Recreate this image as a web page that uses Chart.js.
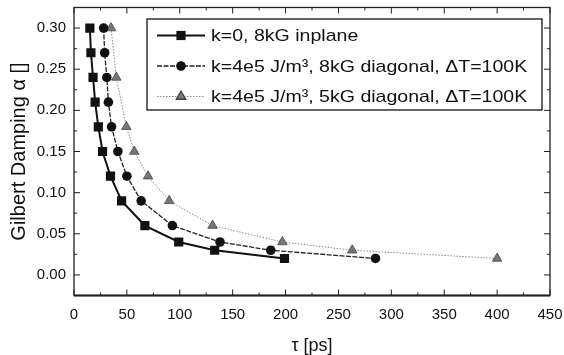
<!DOCTYPE html>
<html>
<head>
<meta charset="utf-8">
<script src="https://cdn.jsdelivr.net/npm/chart.js@4.4.1/dist/chart.umd.min.js"></script>
<style>
  html, body { margin: 0; padding: 0; background: #fff; }
  #damping { display: block; }
</style>
</head>
<body>
<canvas id="damping" width="564" height="355"></canvas>
<script>
// relaxation time tau [ps] vs. Gilbert damping alpha, one pair of arrays per curve
const tauInplane   = [15, 16, 18, 20, 23, 27, 34.5, 45, 67, 99, 133, 199];
const alphaInplane = [0.30, 0.27, 0.24, 0.21, 0.18, 0.15, 0.12, 0.09, 0.06, 0.04, 0.03, 0.02];

const tauDiag8   = [28, 29, 31, 32.5, 35.5, 41.5, 50, 63.5, 93, 138, 186, 285];
const alphaDiag8 = [0.30, 0.27, 0.24, 0.21, 0.18, 0.15, 0.12, 0.09, 0.06, 0.04, 0.03, 0.02];

const tauDiag5   = [35, 40, 49.5, 57, 70, 90, 131, 197, 263, 400];
const alphaDiag5 = [0.30, 0.24, 0.18, 0.15, 0.12, 0.09, 0.06, 0.04, 0.03, 0.02];

const seriesNames = [
  "k=0, 8kG inplane",
  "k=4e5 J/m\u00B3, 8kG diagonal, \u0394T=100K",
  "k=4e5 J/m\u00B3, 5kG diagonal, \u0394T=100K"
];

const xTicks = [0, 50, 100, 150, 200, 250, 300, 350, 400, 450];
const yTicks = [0, 0.05, 0.10, 0.15, 0.20, 0.25, 0.30];
const xMinor = [25, 75, 125, 175, 225, 275, 325, 375, 425];
const yMinor = [0.025, 0.075, 0.125, 0.175, 0.225, 0.275];

const FONT = '"Liberation Sans", Arial, sans-serif';

function pairs(xs, ys) {
  return xs.map((x, i) => ({ x: x, y: ys[i] }));
}

// no extra room for overhanging end labels, the frame fills the axis box
function noLabelPadding(s) {
  s.paddingLeft = 0;
  s.paddingRight = 0;
  s.paddingTop = 0;
  s.paddingBottom = 0;
}

// frame with inward ticks on all four sides
const frameTicks = {
  id: 'frameTicks',
  afterDraw(chart) {
    const ctx = chart.ctx;
    const a = chart.chartArea;
    const sx = chart.scales.x, sy = chart.scales.y;
    ctx.save();
    ctx.strokeStyle = '#222';
    ctx.lineWidth = 1;
    const tick = (x1, y1, x2, y2) => {
      ctx.beginPath();
      ctx.moveTo(x1, y1);
      ctx.lineTo(x2, y2);
      ctx.stroke();
    };
    xTicks.forEach(v => {
      const px = sx.getPixelForValue(v);
      tick(px, a.bottom, px, a.bottom - 6);
      tick(px, a.top, px, a.top + 6);
    });
    xMinor.forEach(v => {
      const px = sx.getPixelForValue(v);
      tick(px, a.bottom, px, a.bottom - 3);
      tick(px, a.top, px, a.top + 3);
    });
    yTicks.forEach(v => {
      const py = sy.getPixelForValue(v);
      tick(a.left, py, a.left + 6, py);
      tick(a.right, py, a.right - 6, py);
    });
    yMinor.forEach(v => {
      const py = sy.getPixelForValue(v);
      tick(a.left, py, a.left + 3, py);
      tick(a.right, py, a.right - 3, py);
    });
    ctx.lineWidth = 1.3;
    ctx.strokeRect(a.left, a.top, a.right - a.left, a.bottom - a.top);
    ctx.lineWidth = 2;
    tick(a.left, a.bottom, a.right, a.bottom);
    ctx.restore();
  }
};

// boxed legend inside the plot, upper right
const boxLegend = {
  id: 'boxLegend',
  afterDraw(chart) {
    const ctx = chart.ctx;
    const left = 147, top = 19, right = 542, bottom = 110;
    ctx.save();
    ctx.fillStyle = '#fff';
    ctx.fillRect(left, top, right - left, bottom - top);
    ctx.strokeStyle = '#111';
    ctx.lineWidth = 1.3;
    ctx.strokeRect(left, top, right - left, bottom - top);

    chart.data.datasets.forEach((ds, i) => {
      const y = 35.5 + i * 30.5;
      ctx.save();
      ctx.strokeStyle = ds.borderColor;
      ctx.lineWidth = ds.borderWidth;
      ctx.setLineDash(ds.borderDash || []);
      ctx.beginPath();
      ctx.moveTo(157, y);
      ctx.lineTo(205, y);
      ctx.stroke();
      ctx.restore();

      ctx.save();
      ctx.fillStyle = ds.pointBackgroundColor;
      ctx.strokeStyle = ds.pointBorderColor;
      Chart.helpers.drawPoint(ctx, {
        pointStyle: ds.pointStyle,
        radius: ds.pointRadius,
        borderWidth: ds.pointBorderWidth,
        rotation: 0
      }, 181, y);
      ctx.restore();

      ctx.save();
      ctx.translate(211, y);
      ctx.scale(1.15, 1);
      ctx.fillStyle = '#111';
      ctx.font = '17px ' + FONT;
      ctx.textBaseline = 'middle';
      ctx.fillText(ds.label, 0, 1);
      ctx.restore();
    });
    ctx.restore();
  }
};

new Chart("damping", {
  type: "scatter",
  data: {
    datasets: [{
      label: seriesNames[0],
      data: pairs(tauInplane, alphaInplane),
      showLine: true,
      borderColor: '#111',
      borderWidth: 2,
      pointStyle: 'rect',
      pointRadius: 6.5,
      pointBackgroundColor: '#111',
      pointBorderColor: '#111',
      pointBorderWidth: 0
    }, {
      label: seriesNames[1],
      data: pairs(tauDiag8, alphaDiag8),
      showLine: true,
      borderColor: '#222',
      borderWidth: 1.3,
      borderDash: [5, 1.5],
      pointStyle: 'circle',
      pointRadius: 4.8,
      pointBackgroundColor: '#111',
      pointBorderColor: '#111',
      pointBorderWidth: 0
    }, {
      label: seriesNames[2],
      data: pairs(tauDiag5, alphaDiag5),
      showLine: true,
      borderColor: '#8a8a8a',
      borderWidth: 1,
      borderDash: [1.5, 1.5],
      pointStyle: 'triangle',
      pointRadius: 5.5,
      pointBackgroundColor: '#777',
      pointBorderColor: '#444',
      pointBorderWidth: 0.8
    }]
  },
  options: {
    responsive: false,
    animation: false,
    devicePixelRatio: 1,
    layout: {
      padding: { top: 7.5, right: 14, left: 0, bottom: 0 }
    },
    plugins: {
      legend: { display: false },
      tooltip: { enabled: false }
    },
    scales: {
      x: {
        type: 'linear',
        min: 0,
        max: 450,
        afterBuildTicks: s => { s.ticks = xTicks.map(v => ({ value: v })); },
        afterFit: s => { s.height = 59.5; noLabelPadding(s); },
        grid: { display: false, drawTicks: false },
        border: { display: false },
        ticks: {
          padding: 10,
          color: '#111',
          maxRotation: 0,
          autoSkip: false,
          font: { family: FONT, size: 15 }
        },
        title: {
          display: true,
          text: 'τ [ps]',
          color: '#111',
          font: { family: FONT, size: 18, lineHeight: 1 },
          padding: { top: 0, bottom: 0 }
        }
      },
      y: {
        type: 'linear',
        min: -0.025,
        max: 0.325,
        afterBuildTicks: s => { s.ticks = yTicks.map(v => ({ value: v })); },
        afterFit: s => { s.width = 74; noLabelPadding(s); },
        grid: { display: false, drawTicks: false },
        border: { display: false },
        ticks: {
          padding: 8,
          color: '#111',
          font: { family: FONT, size: 15 },
          callback: v => v.toFixed(2)
        },
        title: {
          display: true,
          text: 'Gilbert Damping α []',
          color: '#111',
          font: { family: FONT, size: 20 },
          padding: { top: 7, bottom: 0 }
        }
      }
    }
  },
  plugins: [frameTicks, boxLegend]
});
</script>
</body>
</html>
